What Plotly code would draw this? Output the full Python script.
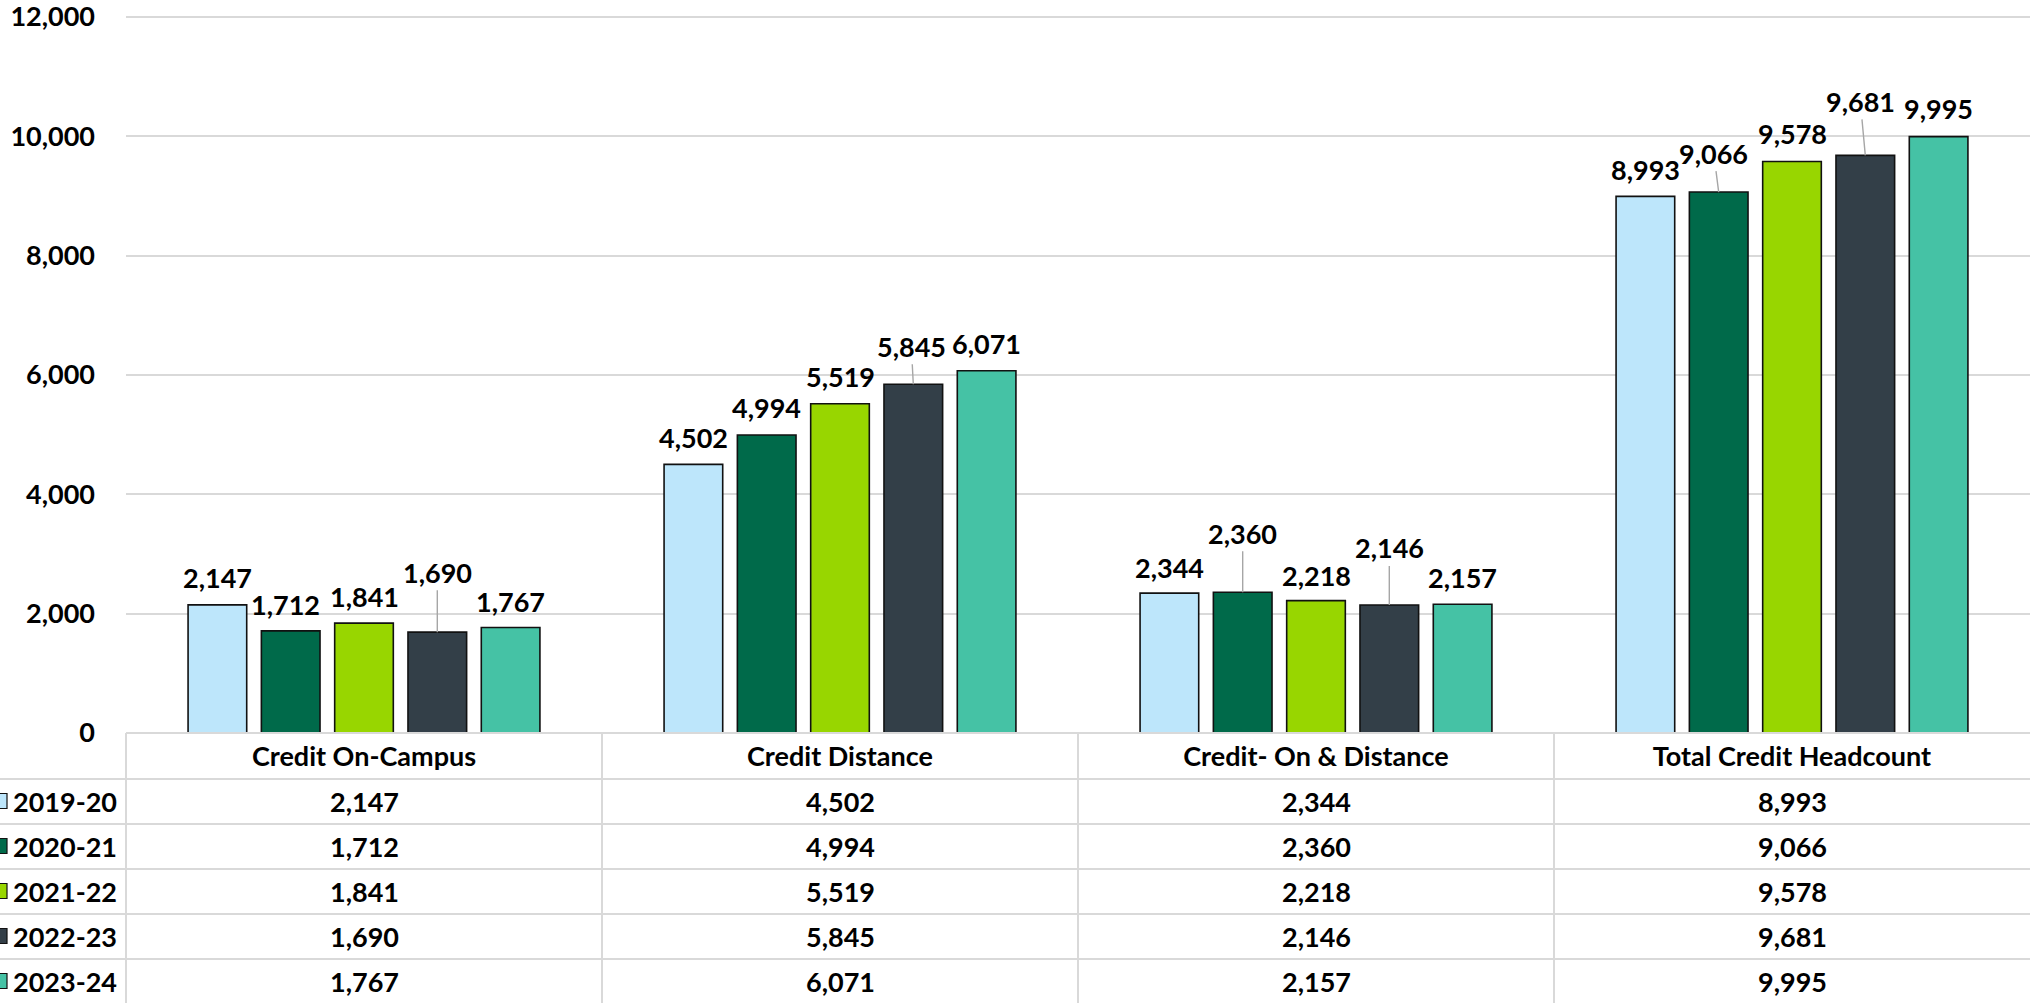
import plotly.graph_objects as go

# ---------------- data ----------------
categories = ["Credit On-Campus", "Credit Distance", "Credit- On & Distance", "Total Credit Headcount"]
years = ["2019-20", "2020-21", "2021-22", "2022-23", "2023-24"]
v_2019_20 = [2147, 4502, 2344, 8993]
v_2020_21 = [1712, 4994, 2360, 9066]
v_2021_22 = [1841, 5519, 2218, 9578]
v_2022_23 = [1690, 5845, 2146, 9681]
v_2023_24 = [1767, 6071, 2157, 9995]
series = [v_2019_20, v_2020_21, v_2021_22, v_2022_23, v_2023_24]
y_ticks = [0, 2000, 4000, 6000, 8000, 10000, 12000]

# ---------------- style ----------------
colors = ["#BDE6FB", "#006A4A", "#98D600", "#333F48", "#45C2A5"]
# data-label placement: pixels above bar top, horizontal nudge (Excel manual label moves)
label_lift = [[27, 27, 26, 27],
              [26, 28, 59, 39],
              [27, 27, 25, 28],
              [60, 38, 57, 54],
              [26, 27, 27, 28]]
label_dx = [[0, 0, 0, 0],
            [-5, 0, 0, -5],
            [0, 0, 0, 0],
            [0, -2, 0, -5],
            [0, 0, 0, 0]]

W, H = 2030, 1003
L, R, T, B = 126, 0, 11, 270
plot_w = W - L - R
plot_h = H - T - B
Y_MAX = 12100
BARGAP = 0.23
GROUPGAP = 0.2
FONT = "Lato"
FS = 27
GRID = "#D9D9D9"
ROW_H = 45
HEADER_H = 46


def px_x(px):
    return (px - L) / plot_w


def px_y(py):
    return (H - B - py) / plot_h


fig = go.Figure()
for name, vals, col in zip(years, series, colors):
    fig.add_trace(go.Bar(
        x=categories, y=vals, name=name,
        marker=dict(color=col, line=dict(color="#111111", width=1.6)),
        showlegend=False,
    ))

annotations = []
pitch_px = plot_w / len(categories) * (1 - BARGAP) / len(years)
mid = (len(years) - 1) / 2
for i, vals in enumerate(series):
    for j, v in enumerate(vals):
        lift = label_lift[i][j]
        dx = label_dx[i][j]
        off = (i - mid) * pitch_px
        txt = f"{v:,}"
        if lift > 35:
            annotations.append(dict(
                x=categories[j], y=v, xref="x", yref="y", text=txt,
                showarrow=True, arrowhead=0, arrowwidth=1.4, arrowcolor="#A6A6A6",
                ax=dx, ay=-lift, xshift=off, standoff=0,
                font=dict(family=FONT, size=FS, color="#000000", weight="bold"),
            ))
        else:
            annotations.append(dict(
                x=categories[j], y=v, xref="x", yref="y", text=txt,
                showarrow=False, xshift=off + dx, yshift=lift, yanchor="middle",
                font=dict(family=FONT, size=FS, color="#000000", weight="bold"),
            ))

# ---------------- data table ----------------
shapes = []
table_top = H - B
shapes.append(dict(type="line", xref="paper", yref="paper",
                   x0=0, x1=1, y0=0, y1=0, line=dict(color=GRID, width=2)))
row_tops = []
for k in range(len(years)):
    y_line = table_top + HEADER_H + k * ROW_H
    row_tops.append(y_line)
    shapes.append(dict(type="line", xref="paper", yref="paper",
                       x0=px_x(0), x1=1, y0=px_y(y_line), y1=px_y(y_line),
                       line=dict(color=GRID, width=2)))
for c in range(len(categories)):
    xb = L + c * plot_w / len(categories)
    shapes.append(dict(type="line", xref="paper", yref="paper",
                       x0=px_x(xb), x1=px_x(xb), y0=0, y1=px_y(H),
                       line=dict(color=GRID, width=2)))

for k, (name, vals, col) in enumerate(zip(years, series, colors)):
    yc = row_tops[k] + ROW_H / 2
    shapes.append(dict(type="rect", xref="paper", yref="paper",
                       x0=px_x(-8), x1=px_x(7), y0=px_y(yc - 8), y1=px_y(yc + 7),
                       fillcolor=col, line=dict(color="#111111", width=1.2)))
    annotations.append(dict(
        x=px_x(119), y=px_y(yc), xref="paper", yref="paper", text=name,
        showarrow=False, xanchor="right", yanchor="middle",
        font=dict(family=FONT, size=FS, color="#000000", weight="bold"),
    ))
    for j, v in enumerate(vals):
        annotations.append(dict(
            x=categories[j], y=px_y(yc), xref="x", yref="paper", text=f"{v:,}",
            showarrow=False, yanchor="middle",
            font=dict(family=FONT, size=FS, color="#000000", weight="bold"),
        ))

fig.update_layout(
    width=W, height=H,
    margin=dict(l=L, r=R, t=T, b=B, pad=0),
    paper_bgcolor="white", plot_bgcolor="white",
    barmode="group", bargap=BARGAP, bargroupgap=GROUPGAP,
    font=dict(family=FONT, size=FS, color="#000000", weight="bold"),
    annotations=annotations, shapes=shapes,
    xaxis=dict(showline=False, ticks="", showgrid=False, zeroline=False,
               tickfont=dict(family=FONT, size=FS, color="#000000", weight="bold"),
               ticklabelstandoff=5, ticklabeloverflow="allow", fixedrange=True),
    yaxis=dict(range=[0, Y_MAX], tickvals=y_ticks, tickformat=",d",
               showgrid=True, gridcolor=GRID, gridwidth=1.5, zeroline=False,
               showline=False, ticks="", ticklabelstandoff=30,
               ticklabeloverflow="allow",
               tickfont=dict(family=FONT, size=FS, color="#000000", weight="bold"),
               fixedrange=True),
)

fig.write_html(
    "out.html",
    config={"displayModeBar": False},
    post_script="document.body.style.margin='0px';document.body.style.overflow='hidden';",
)
